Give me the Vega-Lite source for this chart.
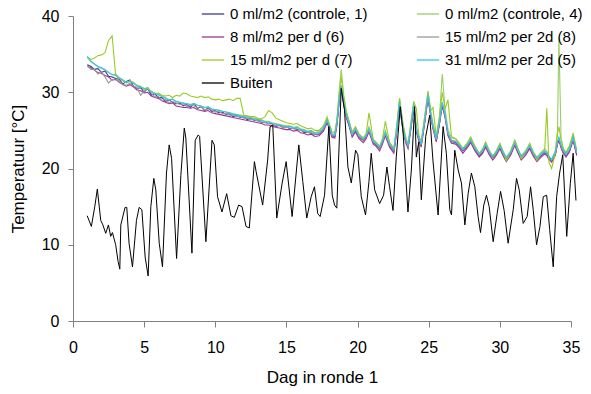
{
"$schema": "https://vega.github.io/schema/vega-lite/v6.json",
"width": 498, "height": 305,
"autosize": {"type": "none"},
"padding": {"left": 73, "top": 16, "right": 20, "bottom": 73},
"background": "white",
"config": {"view": {"stroke": null}, "font": "Liberation Sans"},
"datasets": {
"gh": [
{"d":1.00,"c1":33.6,"c4":34.6,"s6":33.4,"s8":33.5,"s7":34.6,"s5":34.7},
{"d":1.25,"c1":33.4,"c4":34.0,"s6":33.2,"s8":33.0,"s7":34.3,"s5":34.1},
{"d":1.50,"c1":33.0,"c4":33.7,"s6":32.9,"s8":33.0,"s7":34.5,"s5":33.7},
{"d":1.75,"c1":33.1,"c4":33.3,"s6":32.6,"s8":32.4,"s7":34.8,"s5":33.4},
{"d":2.00,"c1":32.6,"c4":33.1,"s6":32.5,"s8":32.7,"s7":34.9,"s5":33.2},
{"d":2.25,"c1":32.8,"c4":32.9,"s6":32.2,"s8":32.0,"s7":35.2,"s5":33.0},
{"d":2.50,"c1":32.1,"c4":32.6,"s6":32.0,"s8":31.2,"s7":36.8,"s5":32.6},
{"d":2.75,"c1":32.0,"c4":32.3,"s6":31.6,"s8":31.7,"s7":37.4,"s5":32.3},
{"d":3.00,"c1":31.8,"c4":32.4,"s6":31.7,"s8":31.6,"s7":32.2,"s5":32.2},
{"d":3.25,"c1":31.7,"c4":31.9,"s6":31.3,"s8":31.5,"s7":31.8,"s5":31.9},
{"d":3.50,"c1":31.1,"c4":31.6,"s6":31.0,"s8":31.0,"s7":31.5,"s5":31.6},
{"d":3.75,"c1":31.4,"c4":31.2,"s6":30.8,"s8":30.9,"s7":31.3,"s5":31.3},
{"d":4.00,"c1":31.6,"c4":31.5,"s6":31.0,"s8":31.2,"s7":31.5,"s5":31.4},
{"d":4.25,"c1":30.8,"c4":31.3,"s6":30.7,"s8":30.8,"s7":31.2,"s5":31.2},
{"d":4.50,"c1":30.5,"c4":30.9,"s6":30.3,"s8":30.6,"s7":30.9,"s5":30.8},
{"d":4.75,"c1":30.6,"c4":30.7,"s6":30.2,"s8":29.6,"s7":30.8,"s5":30.7},
{"d":5.00,"c1":30.0,"c4":30.5,"s6":29.9,"s8":30.1,"s7":30.3,"s5":30.5},
{"d":5.25,"c1":30.5,"c4":30.6,"s6":30.0,"s8":30.6,"s7":30.5,"s5":30.4},
{"d":5.50,"c1":29.6,"c4":30.1,"s6":29.5,"s8":29.9,"s7":30.1,"s5":30.0},
{"d":5.75,"c1":29.8,"c4":29.9,"s6":29.3,"s8":29.4,"s7":29.8,"s5":29.8},
{"d":6.00,"c1":29.3,"c4":29.7,"s6":29.2,"s8":29.5,"s7":29.9,"s5":29.7},
{"d":6.25,"c1":29.3,"c4":29.5,"s6":28.9,"s8":28.9,"s7":29.6,"s5":29.4},
{"d":6.50,"c1":28.8,"c4":29.3,"s6":28.7,"s8":29.1,"s7":29.5,"s5":29.2},
{"d":6.75,"c1":29.0,"c4":29.0,"s6":28.5,"s8":28.6,"s7":29.6,"s5":29.0},
{"d":7.00,"c1":28.7,"c4":29.1,"s6":28.6,"s8":28.8,"s7":29.3,"s5":29.1},
{"d":7.25,"c1":28.5,"c4":28.8,"s6":28.2,"s8":28.6,"s7":29.6,"s5":28.8},
{"d":7.50,"c1":28.6,"c4":28.7,"s6":28.1,"s8":28.4,"s7":29.5,"s5":28.7},
{"d":7.75,"c1":28.2,"c4":28.6,"s6":28.0,"s8":28.5,"s7":29.9,"s5":28.6},
{"d":8.00,"c1":28.4,"c4":28.5,"s6":28.0,"s8":28.1,"s7":29.8,"s5":28.5},
{"d":8.25,"c1":28.0,"c4":28.4,"s6":27.9,"s8":28.3,"s7":29.5,"s5":28.4},
{"d":8.50,"c1":28.5,"c4":28.5,"s6":28.0,"s8":28.2,"s7":29.4,"s5":28.5},
{"d":8.75,"c1":27.9,"c4":28.3,"s6":27.7,"s8":28.0,"s7":29.3,"s5":28.3},
{"d":9.00,"c1":28.1,"c4":28.2,"s6":27.6,"s8":28.1,"s7":29.5,"s5":28.2},
{"d":9.25,"c1":27.6,"c4":28.0,"s6":27.5,"s8":27.7,"s7":29.3,"s5":28.0},
{"d":9.50,"c1":28.0,"c4":28.1,"s6":27.6,"s8":27.8,"s7":29.4,"s5":28.1},
{"d":9.75,"c1":27.5,"c4":27.8,"s6":27.3,"s8":27.7,"s7":29.1,"s5":27.8},
{"d":10.00,"c1":27.6,"c4":27.7,"s6":27.2,"s8":27.4,"s7":29.0,"s5":27.7},
{"d":10.25,"c1":27.3,"c4":27.7,"s6":27.1,"s8":27.5,"s7":29.1,"s5":27.6},
{"d":10.50,"c1":27.4,"c4":27.5,"s6":27.0,"s8":27.2,"s7":28.9,"s5":27.5},
{"d":10.75,"c1":27.1,"c4":27.4,"s6":26.9,"s8":27.2,"s7":29.0,"s5":27.4},
{"d":11.00,"c1":27.2,"c4":27.3,"s6":26.8,"s8":27.0,"s7":29.1,"s5":27.3},
{"d":11.25,"c1":26.8,"c4":27.2,"s6":26.7,"s8":27.0,"s7":28.9,"s5":27.1},
{"d":11.50,"c1":27.0,"c4":27.1,"s6":26.6,"s8":26.8,"s7":29.2,"s5":27.0},
{"d":11.75,"c1":26.7,"c4":27.0,"s6":26.5,"s8":26.8,"s7":29.2,"s5":26.9},
{"d":12.00,"c1":26.8,"c4":26.9,"s6":26.4,"s8":26.6,"s7":27.0,"s5":26.8},
{"d":12.25,"c1":26.4,"c4":26.8,"s6":26.3,"s8":26.6,"s7":26.9,"s5":26.7},
{"d":12.50,"c1":26.6,"c4":26.7,"s6":26.2,"s8":26.4,"s7":26.8,"s5":26.6},
{"d":12.75,"c1":26.3,"c4":26.6,"s6":26.1,"s8":26.4,"s7":26.8,"s5":26.5},
{"d":13.00,"c1":26.4,"c4":26.5,"s6":26.0,"s8":26.2,"s7":26.6,"s5":26.4},
{"d":13.25,"c1":26.0,"c4":26.4,"s6":25.9,"s8":26.1,"s7":26.5,"s5":26.3},
{"d":13.50,"c1":26.1,"c4":26.2,"s6":25.7,"s8":26.0,"s7":26.8,"s5":26.1},
{"d":13.75,"c1":25.9,"c4":26.2,"s6":25.7,"s8":25.9,"s7":27.6,"s5":26.1},
{"d":14.00,"c1":25.9,"c4":26.0,"s6":25.5,"s8":25.8,"s7":27.3,"s5":25.9},
{"d":14.25,"c1":25.5,"c4":25.9,"s6":25.4,"s8":25.6,"s7":26.6,"s5":25.8},
{"d":14.50,"c1":25.7,"c4":25.8,"s6":25.3,"s8":25.6,"s7":26.4,"s5":25.7},
{"d":14.75,"c1":25.4,"c4":25.7,"s6":25.2,"s8":25.4,"s7":26.2,"s5":25.6},
{"d":15.00,"c1":25.5,"c4":25.6,"s6":25.1,"s8":25.4,"s7":26.0,"s5":25.5},
{"d":15.25,"c1":25.2,"c4":25.6,"s6":25.1,"s8":25.3,"s7":25.9,"s5":25.5},
{"d":15.50,"c1":25.3,"c4":25.4,"s6":24.9,"s8":25.2,"s7":25.8,"s5":25.3},
{"d":15.75,"c1":25.1,"c4":25.5,"s6":25.0,"s8":25.2,"s7":25.9,"s5":25.4},
{"d":16.00,"c1":25.1,"c4":25.2,"s6":24.7,"s8":25.0,"s7":25.6,"s5":25.1},
{"d":16.25,"c1":24.7,"c4":25.1,"s6":24.6,"s8":24.9,"s7":25.4,"s5":25.0},
{"d":16.50,"c1":24.8,"c4":24.9,"s6":24.4,"s8":24.7,"s7":25.2,"s5":24.8},
{"d":16.75,"c1":24.6,"c4":25.0,"s6":24.5,"s8":24.7,"s7":25.3,"s5":24.9},
{"d":17.00,"c1":24.5,"c4":24.7,"s6":24.2,"s8":24.5,"s7":25.0,"s5":24.6},
{"d":17.30,"c1":24.5,"c4":24.9,"s6":24.3,"s8":24.6,"s7":25.0,"s5":24.7},
{"d":17.60,"c1":25.1,"c4":25.5,"s6":24.9,"s8":25.2,"s7":25.6,"s5":25.3},
{"d":17.86,"c1":26.2,"c4":26.8,"s6":26.0,"s8":26.4,"s7":26.6,"s5":26.3},
{"d":18.05,"c1":25.2,"c4":25.6,"s6":25.0,"s8":25.3,"s7":25.6,"s5":25.4},
{"d":18.20,"c1":24.3,"c4":24.7,"s6":24.1,"s8":24.4,"s7":24.8,"s5":24.5},
{"d":18.40,"c1":24.2,"c4":24.6,"s6":24.0,"s8":24.3,"s7":24.7,"s5":24.4},
{"d":18.55,"c1":25.8,"c4":26.5,"s6":25.7,"s8":26.0,"s7":26.3,"s5":26.0},
{"d":18.70,"c1":28.8,"c4":30.0,"s6":28.6,"s8":29.0,"s7":29.6,"s5":29.0},
{"d":18.85,"c1":30.8,"c4":33.0,"s6":30.6,"s8":30.9,"s7":32.0,"s5":30.8},
{"d":19.03,"c1":28.5,"c4":29.6,"s6":28.3,"s8":28.6,"s7":29.4,"s5":28.7},
{"d":19.20,"c1":26.9,"c4":27.6,"s6":26.7,"s8":27.0,"s7":27.5,"s5":27.1},
{"d":19.38,"c1":25.9,"c4":26.4,"s6":25.7,"s8":26.0,"s7":26.3,"s5":26.1},
{"d":19.62,"c1":24.3,"c4":24.8,"s6":24.1,"s8":24.4,"s7":24.7,"s5":24.5},
{"d":19.85,"c1":25.0,"c4":25.5,"s6":24.8,"s8":25.1,"s7":25.4,"s5":25.2},
{"d":20.10,"c1":24.1,"c4":24.5,"s6":23.9,"s8":24.2,"s7":24.5,"s5":24.3},
{"d":20.40,"c1":23.7,"c4":24.0,"s6":23.4,"s8":23.8,"s7":24.0,"s5":23.9},
{"d":20.60,"c1":24.1,"c4":24.5,"s6":23.9,"s8":24.2,"s7":24.5,"s5":24.3},
{"d":20.80,"c1":25.0,"c4":25.5,"s6":24.8,"s8":25.1,"s7":27.3,"s5":25.2},
{"d":21.10,"c1":23.4,"c4":23.8,"s6":23.2,"s8":23.5,"s7":23.8,"s5":23.6},
{"d":21.30,"c1":23.1,"c4":23.5,"s6":22.9,"s8":23.2,"s7":23.4,"s5":23.3},
{"d":21.55,"c1":22.6,"c4":22.9,"s6":22.3,"s8":22.7,"s7":22.9,"s5":22.8},
{"d":21.75,"c1":23.4,"c4":23.8,"s6":23.2,"s8":23.5,"s7":23.9,"s5":23.6},
{"d":21.95,"c1":24.5,"c4":25.0,"s6":24.3,"s8":24.6,"s7":26.2,"s5":24.7},
{"d":22.25,"c1":23.0,"c4":23.4,"s6":22.8,"s8":23.1,"s7":23.4,"s5":23.2},
{"d":22.55,"c1":22.3,"c4":22.6,"s6":22.0,"s8":22.4,"s7":22.6,"s5":22.5},
{"d":22.75,"c1":24.9,"c4":25.5,"s6":24.7,"s8":25.0,"s7":25.6,"s5":25.1},
{"d":22.95,"c1":28.4,"c4":29.2,"s6":28.2,"s8":28.6,"s7":29.2,"s5":28.7},
{"d":23.20,"c1":25.0,"c4":25.6,"s6":24.8,"s8":25.1,"s7":25.8,"s5":25.2},
{"d":23.40,"c1":23.5,"c4":23.9,"s6":23.3,"s8":23.6,"s7":24.0,"s5":23.7},
{"d":23.55,"c1":22.8,"c4":23.2,"s6":22.6,"s8":22.9,"s7":23.2,"s5":23.0},
{"d":23.75,"c1":25.4,"c4":26.0,"s6":25.2,"s8":25.5,"s7":26.0,"s5":25.6},
{"d":23.95,"c1":28.1,"c4":28.7,"s6":27.9,"s8":28.3,"s7":28.8,"s5":28.4},
{"d":24.13,"c1":25.0,"c4":25.5,"s6":24.8,"s8":25.1,"s7":27.9,"s5":25.2},
{"d":24.30,"c1":23.9,"c4":24.3,"s6":23.7,"s8":24.0,"s7":24.4,"s5":24.1},
{"d":24.47,"c1":23.0,"c4":23.4,"s6":22.8,"s8":23.1,"s7":23.4,"s5":23.2},
{"d":24.70,"c1":25.9,"c4":26.5,"s6":25.7,"s8":26.0,"s7":26.6,"s5":26.1},
{"d":24.95,"c1":29.4,"c4":30.2,"s6":29.2,"s8":29.6,"s7":30.0,"s5":29.7},
{"d":25.15,"c1":26.9,"c4":27.5,"s6":26.7,"s8":27.0,"s7":27.6,"s5":27.1},
{"d":25.30,"c1":25.4,"c4":25.9,"s6":25.2,"s8":25.5,"s7":28.0,"s5":25.6},
{"d":25.53,"c1":23.7,"c4":24.1,"s6":23.5,"s8":23.8,"s7":24.2,"s5":23.9},
{"d":25.75,"c1":25.9,"c4":26.6,"s6":25.7,"s8":26.0,"s7":26.8,"s5":26.1},
{"d":25.95,"c1":28.4,"c4":32.4,"s6":28.2,"s8":28.6,"s7":30.0,"s5":28.7},
{"d":26.15,"c1":26.9,"c4":27.8,"s6":26.7,"s8":27.0,"s7":27.8,"s5":27.1},
{"d":26.35,"c1":24.5,"c4":25.2,"s6":24.3,"s8":24.6,"s7":29.0,"s5":24.7},
{"d":26.60,"c1":23.5,"c4":24.0,"s6":23.3,"s8":23.6,"s7":24.2,"s5":23.7},
{"d":26.90,"c1":23.4,"c4":23.9,"s6":23.2,"s8":23.5,"s7":23.9,"s5":23.6},
{"d":27.15,"c1":22.9,"c4":23.3,"s6":22.7,"s8":23.0,"s7":23.3,"s5":23.1},
{"d":27.40,"c1":22.3,"c4":22.6,"s6":22.0,"s8":22.4,"s7":22.6,"s5":22.5},
{"d":27.70,"c1":22.9,"c4":23.3,"s6":22.7,"s8":23.0,"s7":23.3,"s5":23.1},
{"d":27.95,"c1":23.6,"c4":24.1,"s6":23.4,"s8":23.7,"s7":24.1,"s5":23.8},
{"d":28.25,"c1":22.5,"c4":22.9,"s6":22.3,"s8":22.6,"s7":22.9,"s5":22.7},
{"d":28.55,"c1":21.7,"c4":22.0,"s6":21.5,"s8":21.8,"s7":21.9,"s5":21.9},
{"d":28.80,"c1":22.2,"c4":22.6,"s6":22.0,"s8":22.3,"s7":22.6,"s5":22.4},
{"d":29.00,"c1":23.0,"c4":23.5,"s6":22.8,"s8":23.1,"s7":23.4,"s5":23.2},
{"d":29.25,"c1":22.0,"c4":22.4,"s6":21.8,"s8":22.1,"s7":22.3,"s5":22.2},
{"d":29.50,"c1":21.4,"c4":21.7,"s6":21.1,"s8":21.5,"s7":21.5,"s5":21.6},
{"d":29.75,"c1":21.9,"c4":22.3,"s6":21.7,"s8":22.0,"s7":22.3,"s5":22.1},
{"d":30.00,"c1":22.8,"c4":23.3,"s6":22.6,"s8":22.9,"s7":23.2,"s5":23.0},
{"d":30.25,"c1":21.8,"c4":22.2,"s6":21.6,"s8":21.9,"s7":22.1,"s5":22.0},
{"d":30.45,"c1":21.2,"c4":21.5,"s6":20.9,"s8":21.3,"s7":21.0,"s5":21.4},
{"d":30.75,"c1":21.9,"c4":22.3,"s6":21.7,"s8":22.0,"s7":22.2,"s5":22.1},
{"d":31.05,"c1":23.2,"c4":23.7,"s6":23.0,"s8":23.3,"s7":23.7,"s5":23.4},
{"d":31.30,"c1":22.1,"c4":22.5,"s6":21.9,"s8":22.2,"s7":22.4,"s5":22.3},
{"d":31.50,"c1":21.4,"c4":21.7,"s6":21.1,"s8":21.5,"s7":21.3,"s5":21.6},
{"d":31.80,"c1":21.9,"c4":22.3,"s6":21.7,"s8":22.0,"s7":22.2,"s5":22.1},
{"d":32.10,"c1":22.8,"c4":23.3,"s6":22.6,"s8":22.9,"s7":23.2,"s5":23.0},
{"d":32.35,"c1":21.8,"c4":22.2,"s6":21.6,"s8":21.9,"s7":22.1,"s5":22.0},
{"d":32.60,"c1":21.2,"c4":21.5,"s6":20.9,"s8":21.3,"s7":21.1,"s5":21.4},
{"d":32.90,"c1":21.7,"c4":22.1,"s6":21.5,"s8":21.8,"s7":22.0,"s5":21.9},
{"d":33.15,"c1":22.1,"c4":22.6,"s6":21.9,"s8":22.2,"s7":22.4,"s5":22.3},
{"d":33.30,"c1":21.9,"c4":22.3,"s6":21.7,"s8":22.0,"s7":27.9,"s5":22.1},
{"d":33.45,"c1":21.4,"c4":21.6,"s6":21.2,"s8":21.5,"s7":20.8,"s5":21.6},
{"d":33.64,"c1":21.0,"c4":21.2,"s6":20.8,"s8":21.1,"s7":20.0,"s5":21.2},
{"d":33.90,"c1":21.9,"c4":22.4,"s6":21.7,"s8":22.0,"s7":22.0,"s5":22.1},
{"d":34.05,"c1":23.3,"c4":25.0,"s6":23.2,"s8":23.5,"s7":24.5,"s5":23.6},
{"d":34.15,"c1":23.8,"c4":37.1,"s6":23.7,"s8":24.0,"s7":25.5,"s5":24.1},
{"d":34.30,"c1":22.9,"c4":24.0,"s6":22.7,"s8":23.0,"s7":23.8,"s5":23.1},
{"d":34.45,"c1":22.2,"c4":22.7,"s6":22.0,"s8":22.3,"s7":22.6,"s5":22.4},
{"d":34.65,"c1":21.7,"c4":22.1,"s6":21.5,"s8":21.8,"s7":22.0,"s5":21.9},
{"d":34.90,"c1":22.4,"c4":23.0,"s6":22.2,"s8":22.5,"s7":23.0,"s5":22.6},
{"d":35.15,"c1":23.8,"c4":24.6,"s6":23.7,"s8":24.0,"s7":24.5,"s5":24.1},
{"d":35.40,"c1":21.9,"c4":22.4,"s6":21.7,"s8":22.0,"s7":22.3,"s5":22.1}
],
"out": [
{"d":1.0,"T":13.8},{"d":1.29,"T":12.4},{"d":1.53,"T":15.0},{"d":1.71,"T":17.3},{"d":1.95,"T":13.2},
{"d":2.1,"T":12.6},{"d":2.3,"T":11.5},{"d":2.49,"T":12.6},{"d":2.65,"T":11.1},{"d":2.77,"T":11.6},
{"d":3.0,"T":10.0},{"d":3.17,"T":7.8},{"d":3.29,"T":6.8},{"d":3.36,"T":12.6},{"d":3.66,"T":14.9},
{"d":3.78,"T":14.9},{"d":3.94,"T":10.2},{"d":4.18,"T":7.1},{"d":4.46,"T":13.2},{"d":4.65,"T":14.9},
{"d":4.84,"T":14.6},{"d":5.07,"T":8.4},{"d":5.28,"T":5.9},{"d":5.47,"T":15.0},{"d":5.68,"T":18.7},
{"d":5.82,"T":17.2},{"d":6.06,"T":10.2},{"d":6.29,"T":7.1},{"d":6.57,"T":19.4},{"d":6.76,"T":23.1},
{"d":6.93,"T":21.3},{"d":7.28,"T":8.2},{"d":7.58,"T":19.1},{"d":7.82,"T":25.3},{"d":7.93,"T":24.0},
{"d":8.36,"T":8.9},{"d":8.59,"T":23.7},{"d":8.8,"T":24.4},{"d":8.9,"T":24.2},{"d":9.34,"T":10.4},
{"d":9.77,"T":23.7},{"d":9.93,"T":23.1},{"d":10.16,"T":16.3},{"d":10.47,"T":14.3},{"d":10.8,"T":16.7},
{"d":11.1,"T":13.8},{"d":11.34,"T":13.6},{"d":11.64,"T":15.2},{"d":11.88,"T":15.0},{"d":12.16,"T":12.4},
{"d":12.39,"T":12.2},{"d":12.75,"T":20.9},{"d":12.87,"T":19.6},{"d":13.33,"T":15.2},{"d":13.68,"T":21.1},
{"d":13.85,"T":25.5},{"d":14.04,"T":25.7},{"d":14.32,"T":13.5},{"d":14.7,"T":18.1},{"d":14.98,"T":20.9},
{"d":15.4,"T":13.7},{"d":15.87,"T":23.1},{"d":16.15,"T":18.3},{"d":16.43,"T":13.5},{"d":16.74,"T":16.3},
{"d":16.97,"T":17.6},{"d":17.2,"T":14.1},{"d":17.37,"T":13.7},{"d":17.68,"T":16.5},{"d":17.98,"T":25.5},
{"d":18.22,"T":16.5},{"d":18.38,"T":15.2},{"d":18.54,"T":14.8},{"d":18.85,"T":30.5},{"d":19.08,"T":27.7},
{"d":19.32,"T":20.2},{"d":19.56,"T":18.1},{"d":19.86,"T":22.4},{"d":20.02,"T":21.8},{"d":20.26,"T":16.3},
{"d":20.56,"T":13.9},{"d":20.8,"T":18.3},{"d":20.96,"T":22.0},{"d":21.2,"T":17.2},{"d":21.55,"T":15.4},
{"d":21.83,"T":16.5},{"d":22.06,"T":20.2},{"d":22.25,"T":17.6},{"d":22.49,"T":14.5},{"d":22.72,"T":21.5},
{"d":23.0,"T":28.1},{"d":23.19,"T":25.0},{"d":23.54,"T":14.3},{"d":23.78,"T":19.8},{"d":24.01,"T":28.1},
{"d":24.13,"T":21.5},{"d":24.3,"T":23.5},{"d":24.48,"T":15.9},{"d":24.79,"T":24.2},{"d":25.07,"T":27.0},
{"d":25.3,"T":21.0},{"d":25.66,"T":13.9},{"d":26.01,"T":25.5},{"d":26.24,"T":22.0},{"d":26.48,"T":14.6},
{"d":26.6,"T":13.9},{"d":26.83,"T":22.4},{"d":27.07,"T":19.8},{"d":27.3,"T":18.1},{"d":27.54,"T":12.6},
{"d":27.77,"T":16.7},{"d":28.0,"T":19.4},{"d":28.24,"T":17.6},{"d":28.47,"T":13.7},{"d":28.64,"T":11.6},
{"d":28.87,"T":15.2},{"d":29.06,"T":16.5},{"d":29.25,"T":15.0},{"d":29.53,"T":10.4},{"d":29.81,"T":14.1},
{"d":30.05,"T":17.0},{"d":30.3,"T":14.5},{"d":30.58,"T":10.2},{"d":30.94,"T":14.6},{"d":31.17,"T":18.7},
{"d":31.36,"T":17.2},{"d":31.64,"T":12.8},{"d":31.92,"T":13.7},{"d":32.16,"T":17.6},{"d":32.35,"T":14.5},
{"d":32.58,"T":10.0},{"d":32.82,"T":12.4},{"d":33.05,"T":16.3},{"d":33.29,"T":16.5},{"d":33.5,"T":12.0},
{"d":33.75,"T":7.1},{"d":33.99,"T":16.3},{"d":34.2,"T":19.4},{"d":34.42,"T":21.8},{"d":34.7,"T":11.1},
{"d":34.95,"T":18.0},{"d":35.15,"T":22.0},{"d":35.35,"T":15.8}
]
},
"layer": [
{
"data": {"name": "gh"},
"transform": [{"fold": ["c1","c4","s6","s8","s7","s5"], "as": ["series","T"]}],
"mark": {"type": "line", "strokeWidth": 1.1},
"encoding": {
"x": {"field": "d", "type": "quantitative",
"scale": {"domain": [0, 35], "nice": false, "zero": false},
"axis": {"values": [0,5,10,15,20,25,30,35], "title": "Dag in ronde 1", "grid": false, "labelFlush": false,
"labelFontSize": 16, "labelColor": "black", "labelPadding": 12, "tickSize": 6,
"tickColor": "#808080", "domainColor": "#808080",
"titleFontSize": 17, "titleFontWeight": "normal", "titleColor": "black", "titlePadding": 14}},
"y": {"field": "T", "type": "quantitative",
"scale": {"domain": [0, 40], "nice": false},
"axis": {"values": [0,5,10,15,20,25,30,35,40], "labelExpr": "datum.value % 10 === 0 ? datum.label : ''",
"title": "Temperatuur [°C]", "grid": false, "labelFlush": false,
"labelFontSize": 16, "labelColor": "black", "labelPadding": 9, "tickSize": 5,
"tickColor": "#808080", "domainColor": "#808080",
"titleFontSize": 17, "titleFontWeight": "normal", "titleColor": "black", "titlePadding": 14}},
"color": {"field": "series", "type": "nominal",
"scale": {"domain": ["c1","c4","s6","s8","s7","s5","b"],
"range": ["#3a3a9a","#9ccc66","#a3338f","#999999","#99cc22","#33c4f0","#000000"]},
"legend": {"orient": "none", "legendX": 128, "legendY": -14, "columns": 2, "direction": "horizontal", "title": null,
"symbolType": "stroke", "symbolSize": 500, "symbolStrokeWidth": 1.3,
"labelFontSize": 15, "labelColor": "black", "labelOffset": 5, "columnPadding": 46, "rowPadding": 3, "padding": 0,
"labelExpr": "{'c1':'0 ml/m2 (controle, 1)','c4':'0 ml/m2 (controle, 4)','s6':'8 ml/m2 per d (6)','s8':'15 ml/m2 per 2d (8)','s7':'15 ml/m2 per d (7)','s5':'31 ml/m2 per 2d (5)','b':'Buiten'}[datum.label]"}}
}
},
{
"data": {"name": "out"},
"mark": {"type": "line", "strokeWidth": 1},
"encoding": {
"x": {"field": "d", "type": "quantitative", "scale": {"domain": [0, 35], "nice": false, "zero": false}},
"y": {"field": "T", "type": "quantitative"},
"color": {"datum": "b", "type": "nominal"}
}
}
]
}
